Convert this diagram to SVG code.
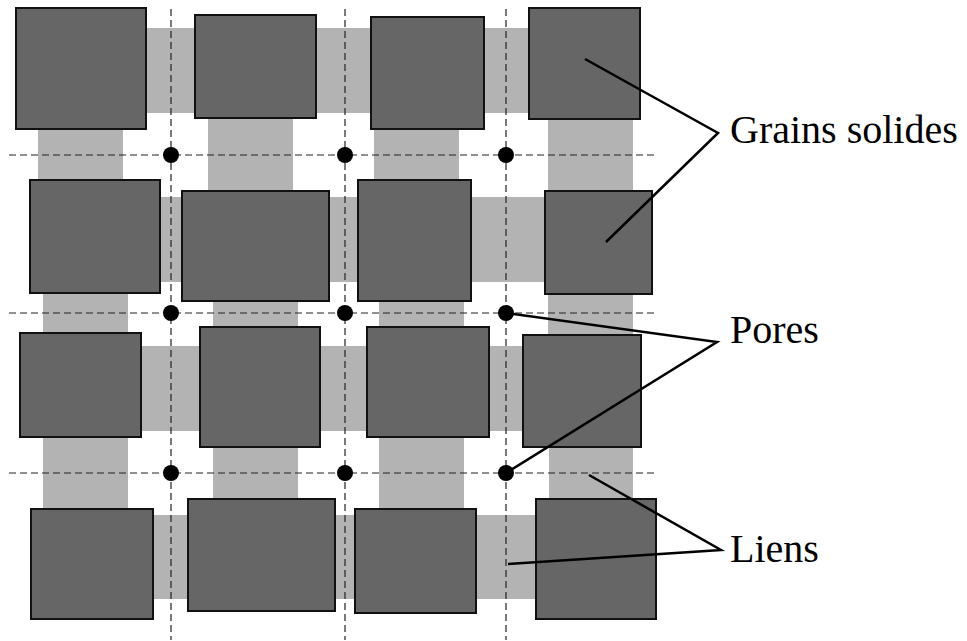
<svg xmlns="http://www.w3.org/2000/svg" width="967" height="641" viewBox="0 0 967 641">
<style>
.band{fill:#b3b3b3}
.grain{fill:#666666;stroke:#111;stroke-width:2}
.grid{stroke:#222;stroke-width:1.2;stroke-dasharray:7,4;fill:none}
.pore{fill:#000}
.lead{stroke:#000;stroke-width:2.5;fill:none}
.lbl{font-family:"Liberation Serif","Times New Roman",serif;font-size:40px;fill:#000}
</style>
<rect width="967" height="641" fill="#fff"/>
<g id="liens">
<rect class="band" x="140" y="28" width="395" height="85"/>
<rect class="band" x="155" y="197" width="395" height="85"/>
<rect class="band" x="135" y="346" width="395" height="85"/>
<rect class="band" x="148" y="515" width="395" height="84"/>
<rect class="band" x="38" y="125" width="85" height="60"/>
<rect class="band" x="208" y="114" width="85" height="82"/>
<rect class="band" x="374" y="125" width="85" height="60"/>
<rect class="band" x="548" y="115" width="85" height="80"/>
<rect class="band" x="43" y="289" width="85" height="48"/>
<rect class="band" x="213" y="297" width="85" height="34"/>
<rect class="band" x="379" y="297" width="85" height="34"/>
<rect class="band" x="548" y="290" width="85" height="49"/>
<rect class="band" x="43" y="433" width="85" height="80"/>
<rect class="band" x="213" y="443" width="85" height="60"/>
<rect class="band" x="379" y="433" width="85" height="80"/>
<rect class="band" x="549" y="443" width="84" height="60"/>
</g>
<g id="grille">
<line class="grid" x1="9" y1="155" x2="655" y2="155"/>
<line class="grid" x1="9" y1="313" x2="655" y2="313"/>
<line class="grid" x1="9" y1="473" x2="655" y2="473"/>
<line class="grid" x1="171" y1="9" x2="171" y2="640"/>
<line class="grid" x1="345" y1="9" x2="345" y2="640"/>
<line class="grid" x1="506" y1="9" x2="506" y2="640"/>
</g>
<g id="grains">
<rect class="grain" x="16" y="8" width="130" height="121"/>
<rect class="grain" x="195" y="15" width="121" height="103"/>
<rect class="grain" x="371" y="17" width="113" height="112"/>
<rect class="grain" x="529" y="8" width="111" height="111"/>
<rect class="grain" x="30" y="180" width="130" height="113"/>
<rect class="grain" x="182" y="191" width="147" height="110"/>
<rect class="grain" x="358" y="180" width="113" height="121"/>
<rect class="grain" x="545" y="191" width="107" height="103"/>
<rect class="grain" x="20" y="333" width="121" height="104"/>
<rect class="grain" x="200" y="327" width="120" height="120"/>
<rect class="grain" x="367" y="327" width="122" height="110"/>
<rect class="grain" x="523" y="335" width="118" height="112"/>
<rect class="grain" x="31" y="509" width="122" height="110"/>
<rect class="grain" x="188" y="499" width="147" height="112"/>
<rect class="grain" x="355" y="509" width="121" height="104"/>
<rect class="grain" x="536" y="499" width="120" height="120"/>
</g>
<g id="pores">
<circle class="pore" cx="171" cy="155" r="8"/>
<circle class="pore" cx="345" cy="155" r="8"/>
<circle class="pore" cx="506" cy="155" r="8"/>
<circle class="pore" cx="171" cy="313" r="8"/>
<circle class="pore" cx="345" cy="313" r="8"/>
<circle class="pore" cx="506" cy="313" r="8"/>
<circle class="pore" cx="171" cy="473" r="8"/>
<circle class="pore" cx="345" cy="473" r="8"/>
<circle class="pore" cx="506" cy="473" r="8"/>
</g>
<g id="connecteurs">
<polyline class="lead" points="585,59 718,133 606,242"/>
<polyline class="lead" points="506,313 717,342 506,473"/>
<polyline class="lead" points="589,475 721,550 508,564"/>
</g>
<g id="labels">
<text class="lbl" x="730" y="143" font-family="Liberation Serif, serif">Grains solides</text>
<text class="lbl" x="730" y="343" font-family="Liberation Serif, serif">Pores</text>
<text class="lbl" x="730" y="562" font-family="Liberation Serif, serif">Liens</text>
</g>
</svg>
